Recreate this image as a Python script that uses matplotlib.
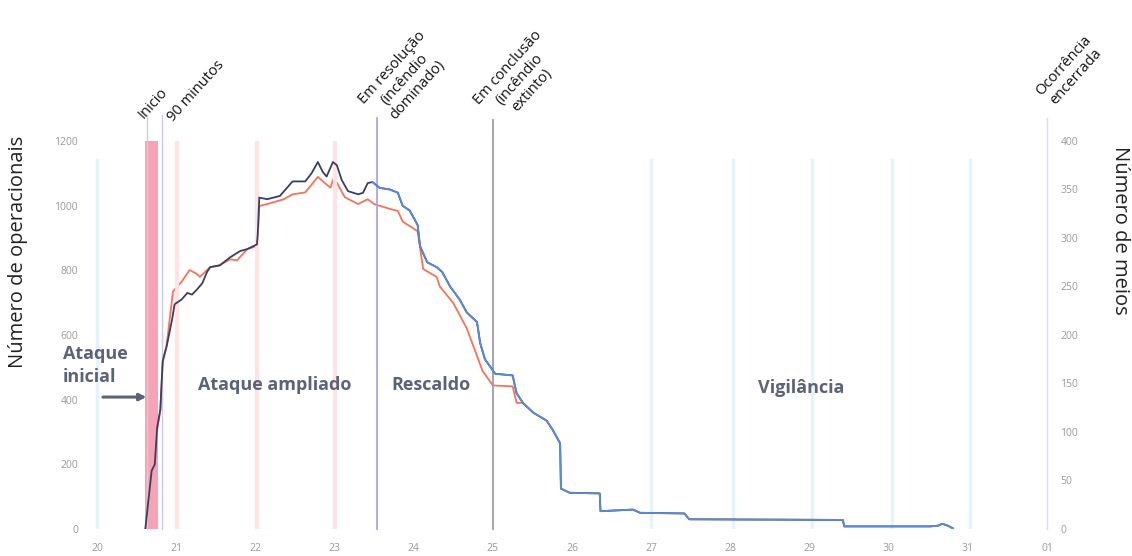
import numpy as np
import matplotlib.pyplot as plt

plt.rcParams['font.family'] = ['Open Sans', 'DejaVu Sans']

# dias (dia do mês, fração = hora) e número de operacionais
dias_op = [20.61, 20.69, 20.73, 20.76, 20.80, 20.83, 20.88, 20.95, 20.98, 21.07,
           21.14, 21.20, 21.26, 21.33, 21.39, 21.43, 21.55, 21.68, 21.81, 21.89,
           22.02, 22.03, 22.05, 22.15, 22.31, 22.47, 22.63, 22.71, 22.79, 22.85,
           22.90, 22.98, 23.03, 23.09, 23.17, 23.30, 23.36, 23.42, 23.48, 23.57,
           23.70, 23.80, 23.86, 23.95, 24.05, 24.08, 24.17, 24.29, 24.36, 24.46,
           24.58, 24.67, 24.80, 24.84, 24.90, 25.03, 25.25, 25.30, 25.38, 25.51,
           25.68, 25.76, 25.85, 25.86, 25.97, 26.35, 26.36, 26.77, 26.86, 27.42,
           27.48, 29.42, 29.44, 30.52, 30.62, 30.68, 30.75, 30.81]
operacionais = [0, 180, 200, 315, 370, 520, 565, 650, 695, 710,
                730, 725, 740, 760, 795, 810, 815, 840, 860, 865,
                880, 910, 1025, 1020, 1030, 1075, 1075, 1100, 1135, 1105,
                1090, 1135, 1125, 1080, 1045, 1035, 1040, 1070, 1073, 1055,
                1050, 1040, 1000, 985, 940, 875, 825, 810, 795, 750,
                710, 670, 640, 575, 525, 480, 475, 420, 390, 360,
                335, 305, 265, 125, 112, 110, 55, 60, 50, 48,
                30, 28, 8, 8, 10, 16, 10, 2]

# número de meios (eixo da direita)
dias_meios = [20.72, 20.73, 20.76, 20.80, 20.83, 20.88, 20.96, 21.07, 21.17, 21.26,
              21.30, 21.43, 21.55, 21.68, 21.77, 21.89, 22.02, 22.03, 22.05, 22.15,
              22.36, 22.47, 22.63, 22.79, 22.90, 22.95, 22.98, 23.03, 23.13, 23.30,
              23.42, 23.50, 23.70, 23.80, 23.86, 24.05, 24.12, 24.29, 24.33, 24.50,
              24.67, 24.87, 25.00, 25.25, 25.30, 25.38]
meios = [0, 67, 102, 122, 172, 190, 245, 255, 267, 263,
         260, 270, 272, 278, 277, 288, 292, 300, 333, 335,
         340, 345, 347, 363, 355, 352, 360, 357, 342, 335,
         340, 335, 330, 328, 317, 307, 268, 260, 250, 233,
         207, 163, 148, 147, 130, 130]

# marcos da ocorrência
t_inicio = 20.63
t_90min = 20.82
t_resolucao = 23.535
t_conclusao = 25.0
t_encerrada = 32.0

dias_ticks = [20, 21, 22, 23, 24, 25, 26, 27, 28, 29, 30, 31, 32]
dias_labels = ['20', '21', '22', '23', '24', '25', '26', '27', '28', '29', '30', '31', '01']
dias_rosa = [21.01, 22.02, 23.0]
dias_azul = [20.0, 27.0, 28.03, 29.03, 30.04, 31.03]

fig = plt.figure(figsize=(11.32, 5.56), dpi=100)
ax = fig.add_axes([0.0787, 0.0486, 0.8532, 0.6978])
ax2 = ax.twinx()

ax.set_xlim(19.9, 32.1)
ax.set_ylim(0, 1200)
ax2.set_ylim(0, 400)

# faixas de fundo
for d in dias_rosa:
    ax.axvline(d, color='#fde2e6', lw=3, zorder=0)
for d in dias_azul:
    ax.axvline(d, ymax=0.95, color='#e6f3fb', lw=2.5, zorder=0)
ax.axvspan(20.61, 20.77, color='#f6a3b6', lw=0, zorder=0.5)

# marcos verticais
ax.axvline(t_inicio, ymin=0, ymax=1.067, color='#cfcfd8', lw=1, clip_on=False)
ax.axvline(t_90min, ymin=0, ymax=1.067, color='#c9c9ee', lw=1, clip_on=False)
ax.axvline(t_resolucao, ymin=0, ymax=1.06, color='#aaa6ea', lw=1.3, clip_on=False)
ax.axvline(t_conclusao, ymin=0, ymax=1.055, color='#9b9bb8', lw=1.3, clip_on=False)
ax.axvline(t_encerrada, ymin=0, ymax=1.06, color='#dcdcf0', lw=1, clip_on=False)

# séries
ax2.plot(dias_meios, meios, color='#f4735a', lw=1.3, zorder=2)
ax.set_zorder(ax2.get_zorder() + 1)
ax.patch.set_visible(False)
d = np.array(dias_op)
v = np.array(operacionais)
i0 = np.searchsorted(d, t_resolucao) - 1
ax.plot(d, v, color='#3b3f5e', lw=1.3, zorder=3)
ax.plot(d[i0:], v[i0:], color='#5b8ad6', lw=1.3, zorder=4)

# fases
fase_cor = '#5c6378'
ax.text(19.57, 505, 'Ataque\ninicial', color=fase_cor, fontsize=13, fontweight='bold',
        ha='left', va='center', linespacing=1.35)
ax.annotate('', xy=(20.66, 408), xytext=(20.04, 408),
            arrowprops=dict(arrowstyle='-|>', color=fase_cor, lw=2.2, mutation_scale=10))
ax.text(22.25, 445, 'Ataque ampliado', color=fase_cor, fontsize=13, fontweight='bold',
        ha='center', va='center')
ax.text(24.22, 445, 'Rescaldo', color=fase_cor, fontsize=13, fontweight='bold',
        ha='center', va='center')
ax.text(28.89, 436, 'Vigilância', color=fase_cor, fontsize=13, fontweight='bold',
        ha='center', va='center')

# etiquetas dos marcos
tr = ax.get_xaxis_transform()
marcos = [
    (20.71, 1.098, 'Inicio'),
    (21.25, 1.128, '90 minutos'),
    (23.89, 1.16, 'Em resolução\n(incêndio\ndominado)'),
    (25.34, 1.16, 'Em conclusão\n(incêndio\nextinto)'),
    (32.29, 1.18, 'Ocorrência\nencerrada'),
]
for x, y, txt in marcos:
    ax.text(x, y, txt, transform=tr, rotation=48, ha='center', va='center',
            multialignment='center', fontsize=10.5, linespacing=1.15,
            color='#111111', clip_on=False)

# eixos
ax.set_xticks(dias_ticks)
ax.set_xticklabels(dias_labels)
ax.set_yticks([0, 200, 400, 600, 800, 1000, 1200])
ax2.set_yticks([0, 50, 100, 150, 200, 250, 300, 350, 400])
ax.tick_params(axis='both', length=0, labelsize=7.5, labelcolor='#9a9a9a')
ax.tick_params(axis='x', pad=10)
ax.tick_params(axis='y', pad=8)
ax2.tick_params(axis='y', length=0, labelsize=7.5, labelcolor='#9a9a9a', pad=4)
for a in (ax, ax2):
    for s in a.spines.values():
        s.set_visible(False)

fig.text(18 / 1132, 0.547, 'Número de operacionais', rotation=90, ha='center', va='center',
         fontsize=14.5, color='#222222')
fig.text(1120 / 1132, 0.586, 'Número de meios', rotation=270, ha='center', va='center',
         fontsize=14.5, color='#222222')

fig.savefig('out.png', dpi=100, facecolor='white')
